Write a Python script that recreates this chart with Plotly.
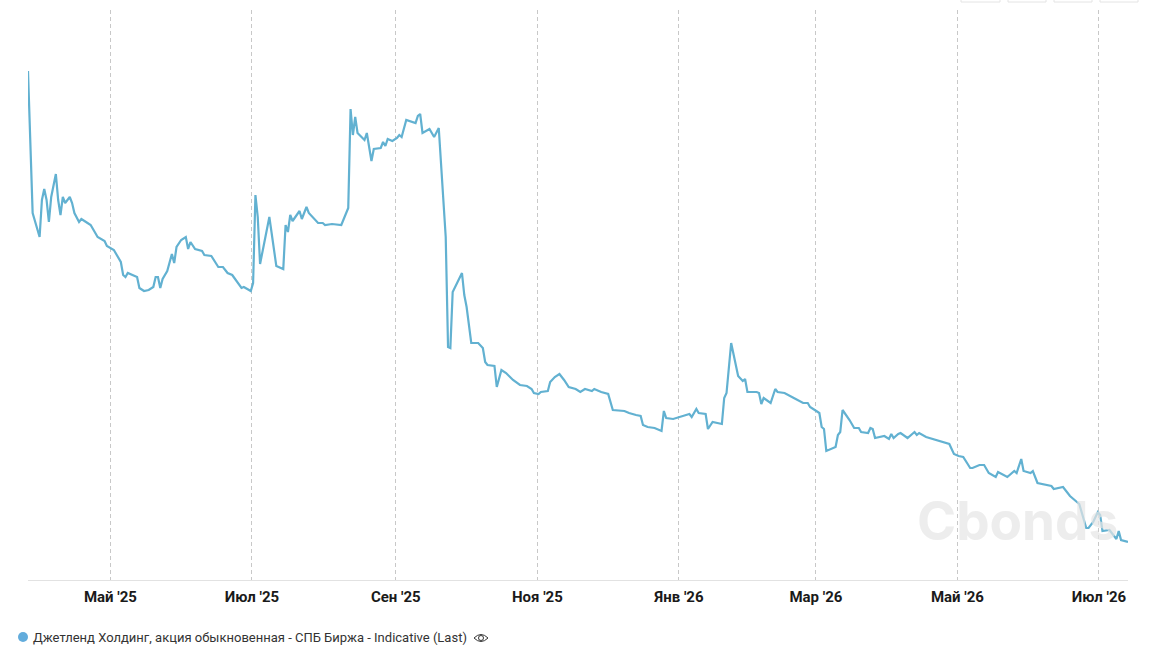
"""
Джетленд Холдинг: цена акции, линия по датам, оси без шкалы Y, подпись серии снизу.
"""

import pandas as pd
import plotly.graph_objects as go

SERIES_NAME = "Джетленд Холдинг, акция обыкновенная - СПБ Биржа - Indicative (Last)"
WATERMARK = "Cbonds"

START_DATE = "2025-03-26 12:00"
END_DATE = "2026-07-13 12:00"

# дни от START_DATE и значения (шкалы в оригинале нет)
DAYS = [
    0, 2, 5, 6, 7, 8, 9, 10, 12, 13, 14, 15, 16, 18, 19, 20, 22, 23, 25, 27,
    30, 33, 34, 37, 40, 41, 42, 43, 47, 48, 50, 52, 54, 55, 56, 57, 58, 60, 62, 63,
    64, 66, 68, 69, 70, 72, 75, 76, 79, 82, 84, 86, 88, 92, 93, 96, 97, 98, 99, 100,
    104, 107, 110, 111, 112, 113, 114, 117, 118, 120, 121, 125, 127, 128, 131, 135, 138, 139, 140, 141,
    142, 145, 146, 148, 149, 152, 153, 154, 155, 157, 159, 160, 161, 163, 167, 168, 169, 170, 173, 175,
    177, 180, 181, 182, 183, 187, 188, 189, 191, 194, 196, 197, 198, 201, 202, 204, 206, 209, 212, 215,
    217, 218, 220, 221, 224, 225, 227, 229, 231, 233, 236, 238, 240, 243, 244, 246, 247, 250, 252, 257,
    259, 262, 264, 265, 267, 270, 273, 274, 275, 278, 285, 286, 288, 289, 292, 293, 295, 299, 300, 301,
    303, 306, 308, 309, 310, 314, 315, 316, 317, 320, 322, 323, 326, 330, 334, 336, 337, 341, 342, 343,
    344, 348, 349, 350, 351, 354, 356, 358, 359, 362, 363, 364, 365, 369, 371, 372, 373, 375, 376, 379,
    382, 383, 384, 387, 391, 392, 397, 399, 401, 403, 406, 407, 410, 412, 414, 417, 418, 422, 425, 426,
    428, 429, 432, 433, 435, 441, 442, 446, 447, 449, 453, 456, 457, 459, 461, 462, 463, 466, 469, 470,
    471, 474,
]
VALUES = [
    507, 365, 341, 378, 389, 378, 356, 381, 404, 378, 363, 381, 375, 381, 375, 365, 356, 359, 356, 353,
    341, 337, 332, 328, 316, 303, 301, 305, 301, 290, 287, 288, 291, 301, 301, 290, 299, 307, 324, 315,
    331, 338, 341, 329, 336, 329, 327, 323, 322, 311, 311, 305, 303, 290, 291, 287, 295, 383, 361, 314,
    361, 312, 309, 353, 346, 363, 357, 367, 359, 371, 365, 355, 355, 353, 354, 353, 370, 469, 443, 461,
    445, 438, 445, 417, 429, 430, 436, 432, 439, 437, 440, 443, 441, 458, 455, 462, 464, 445, 449, 441,
    450, 341, 231, 230, 286, 305, 283, 271, 235, 235, 230, 216, 213, 212, 191, 208, 205, 198, 193, 192,
    189, 185, 184, 186, 187, 196, 201, 204, 198, 191, 189, 186, 189, 187, 189, 187, 186, 184, 168, 167,
    165, 163, 162, 153, 151, 150, 147, 167, 160, 159, 164, 161, 169, 165, 164, 149, 156, 154, 180, 185,
    235, 202, 197, 199, 186, 186, 185, 174, 180, 175, 189, 186, 185, 180, 175, 175, 171, 165, 151, 149,
    127, 131, 143, 146, 168, 158, 150, 150, 146, 145, 150, 149, 140, 142, 139, 144, 140, 144, 145, 140,
    146, 143, 145, 141, 138, 138, 134, 124, 122, 121, 110, 110, 113, 113, 105, 101, 106, 101, 107, 105,
    119, 107, 105, 107, 95, 92, 89, 91, 88, 82, 74, 50, 50, 56, 66, 63, 47, 48, 39, 47,
    38, 36,
]

TICK_DATES = [
    "2025-05-01", "2025-07-01", "2025-09-01", "2025-11-01",
    "2026-01-01", "2026-03-01", "2026-05-01", "2026-07-01",
]
TICK_LABELS = [
    "Май '25", "Июл '25", "Сен '25", "Ноя '25",
    "Янв '26", "Мар '26", "Май '26", "Июл '26",
]

W, H = 1155, 648
LEFT, RIGHT, TOP, BOTTOM = 28, 27, 10, 68
LINE_COLOR = "#62b1d1"
DOT_COLOR = "#62acdc"


# пиксели страницы -> доли области графика
def px_x(x):
    return (x - LEFT) / (W - LEFT - RIGHT)


def px_y(y):
    return (H - BOTTOM - y) / (H - TOP - BOTTOM)


dates = pd.Timestamp(START_DATE) + pd.to_timedelta(DAYS, unit="D")

fig = go.Figure()
fig.add_trace(
    go.Scatter(
        x=dates,
        y=VALUES,
        name=SERIES_NAME,
        mode="lines",
        line=dict(color=LINE_COLOR, width=2.2),
    )
)

shapes = []
# кнопки наверху, срезаны краем страницы
for left, right in [(961, 1000), (1008, 1046), (1054, 1092), (1100, 1138)]:
    shapes.append(
        dict(
            type="rect", xref="paper", yref="paper", layer="below",
            x0=px_x(left), x1=px_x(right), y0=px_y(2), y1=px_y(-6),
            line=dict(color="#e4e4e4", width=1),
        )
    )
# маркер серии
shapes.append(
    dict(
        type="circle", xref="paper", yref="paper",
        xsizemode="pixel", ysizemode="pixel",
        xanchor=px_x(23), yanchor=px_y(637),
        x0=-5, x1=5, y0=-5, y1=5,
        fillcolor=DOT_COLOR, line=dict(width=0),
    )
)
# глаз рядом с подписью
shapes.append(
    dict(
        type="path", xref="paper", yref="paper",
        xsizemode="pixel", ysizemode="pixel",
        xanchor=px_x(481), yanchor=px_y(638),
        path="M -7 0 Q 0 -7 7 0 Q 0 7 -7 0 Z",
        line=dict(color="#333333", width=1),
    )
)
shapes.append(
    dict(
        type="circle", xref="paper", yref="paper",
        xsizemode="pixel", ysizemode="pixel",
        xanchor=px_x(481), yanchor=px_y(638),
        x0=-2.5, x1=2.5, y0=-2.5, y1=2.5,
        line=dict(color="#333333", width=1),
    )
)

annotations = [
    dict(
        text=WATERMARK, xref="paper", yref="paper",
        x=px_x(1017), y=px_y(521), xanchor="center", yanchor="middle",
        showarrow=False, opacity=0.7,
        font=dict(family="Inter", size=53, color="#e6e6e6", weight=700),
    ),
    dict(
        text=SERIES_NAME, xref="paper", yref="paper",
        x=px_x(31), y=px_y(637), xanchor="left", yanchor="middle",
        showarrow=False,
        font=dict(family="Roboto", size=13, color="#333333"),
    ),
]

fig.update_layout(
    width=W,
    height=H,
    margin=dict(l=LEFT, r=RIGHT, t=TOP, b=BOTTOM),
    paper_bgcolor="#ffffff",
    plot_bgcolor="#ffffff",
    showlegend=False,
    shapes=shapes,
    annotations=annotations,
    xaxis=dict(
        type="date",
        range=[START_DATE, END_DATE],
        tickmode="array",
        tickvals=TICK_DATES,
        ticktext=TICK_LABELS,
        tickfont=dict(family="Roboto", size=15, color="#1a1a1a", weight=700),
        ticks="outside",
        ticklen=3,
        tickcolor="rgba(0,0,0,0)",
        showgrid=True,
        gridcolor="#c8c8c8",
        griddash="4px,3px",
        gridwidth=1,
        showline=True,
        linecolor="#e2e2e2",
        linewidth=1,
        zeroline=False,
    ),
    yaxis=dict(range=[-2, 568], visible=False),
)

fig.write_html(
    "out.html",
    config={"displayModeBar": False},
    post_script="document.body.style.margin='0';",
)
